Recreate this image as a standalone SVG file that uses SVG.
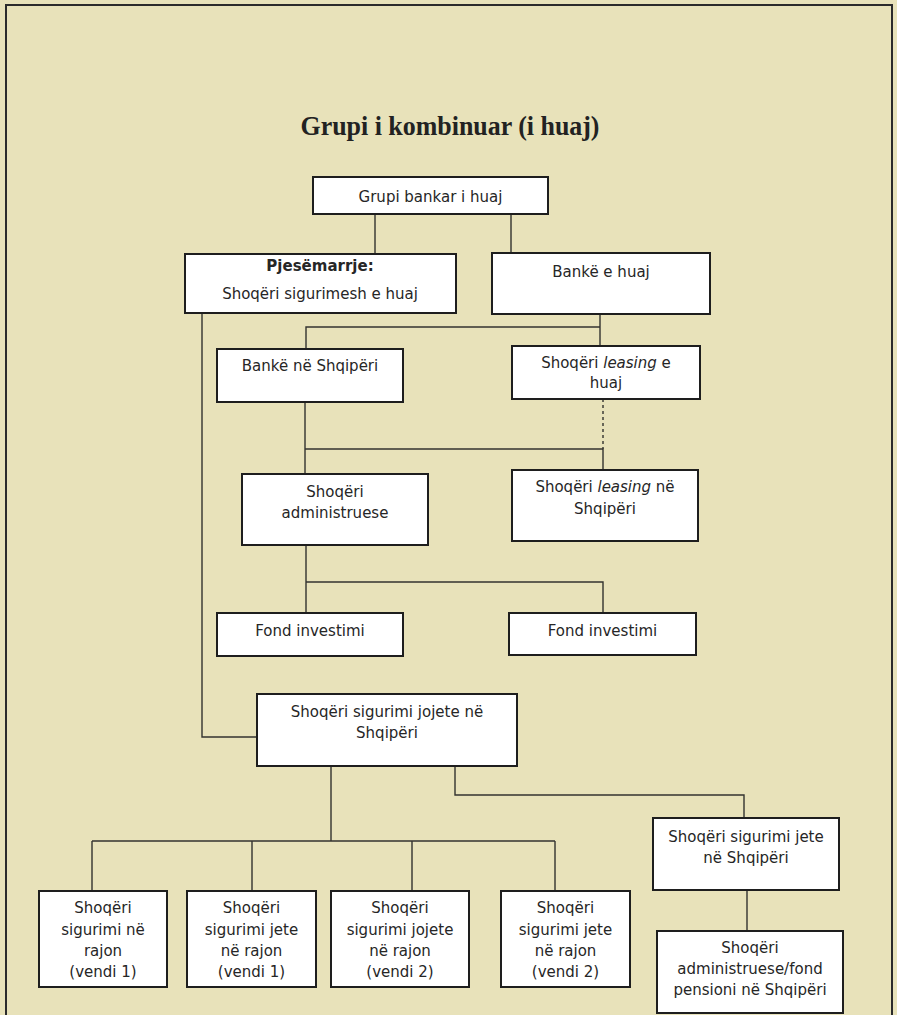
<svg xmlns="http://www.w3.org/2000/svg" width="897" height="1015" viewBox="0 0 897 1015">
<defs>
<style>
.bg{fill:#E8E2BA}
.frame{fill:none;stroke:#2b2b2b;stroke-width:2}
.box{fill:#ffffff;stroke:#1e1e1e;stroke-width:2}
.ln{fill:none;stroke:#333330;stroke-width:1.4}
.dash{fill:none;stroke:#333330;stroke-width:1.4;stroke-dasharray:3,3}
.t{font-family:"DejaVu Sans","Verdana",sans-serif;font-size:15px;fill:#262626;text-anchor:middle}
.title{font-family:"Liberation Serif","Times New Roman",serif;font-size:28px;font-weight:bold;fill:#222;text-anchor:middle}
.b{font-weight:bold}
.i{font-style:italic}
</style>
</defs>
<rect class="bg" x="0" y="0" width="897" height="1015"/>
<path class="frame" d="M6,1016 V5 H892 V1016"/>
<text class="title" x="450" y="135" textLength="299" lengthAdjust="spacingAndGlyphs">Grupi i kombinuar (i huaj)</text>

<g id="connectors">
<path class="ln" d="M375,214 V254 M511,214 V253"/>
<path class="ln" d="M600,314 V327 H306 V349 M600,327 V346"/>
<path class="ln" d="M202,313 V737 H257"/>
<path class="ln" d="M305,402 V449 H603 V470 M305,449 V474"/>
<path class="dash" d="M603,399 V449"/>
<path class="ln" d="M306,545 V582 H603 V613 M306,582 V613"/>
<path class="ln" d="M331,766 V841 M92,841 H555 M92,841 V891 M252,841 V891 M412,841 V891 M555,841 V891"/>
<path class="ln" d="M455,766 V795 H744 V818"/>
<path class="ln" d="M747,890 V931"/>
</g>

<g id="grupi-bankar">
<rect class="box" x="313" y="177" width="235" height="37"/>
<text class="t" x="430.5" y="202">Grupi bankar i huaj</text>
</g>
<g id="pjesemarrje">
<rect class="box" x="185" y="254" width="271" height="59"/>
<text class="t" x="320" y="271"><tspan class="b">Pjesëmarrje:</tspan></text>
<text class="t" x="320" y="299">Shoqëri sigurimesh e huaj</text>
</g>
<g id="banke-huaj">
<rect class="box" x="492" y="253" width="218" height="61"/>
<text class="t" x="601" y="277">Bankë e huaj</text>
</g>
<g id="banke-shqiperi">
<rect class="box" x="217" y="349" width="186" height="53"/>
<text class="t" x="310" y="371">Bankë në Shqipëri</text>
</g>
<g id="leasing-huaj">
<rect class="box" x="512" y="346" width="188" height="53"/>
<text class="t" x="606" y="368">Shoqëri <tspan class="i">leasing</tspan> e</text>
<text class="t" x="606" y="388">huaj</text>
</g>
<g id="administruese">
<rect class="box" x="242" y="474" width="186" height="71"/>
<text class="t" x="335" y="497">Shoqëri</text>
<text class="t" x="335" y="518">administruese</text>
</g>
<g id="leasing-shqiperi">
<rect class="box" x="512" y="470" width="186" height="71"/>
<text class="t" x="605" y="492">Shoqëri <tspan class="i">leasing</tspan> në</text>
<text class="t" x="605" y="514">Shqipëri</text>
</g>
<g id="fond-1">
<rect class="box" x="217" y="613" width="186" height="43"/>
<text class="t" x="310" y="636">Fond investimi</text>
</g>
<g id="fond-2">
<rect class="box" x="509" y="613" width="187" height="42"/>
<text class="t" x="602.5" y="636">Fond investimi</text>
</g>
<g id="jojete-shqiperi">
<rect class="box" x="257" y="694" width="260" height="72"/>
<text class="t" x="387" y="717">Shoqëri sigurimi jojete në</text>
<text class="t" x="387" y="738">Shqipëri</text>
</g>
<g id="jete-shqiperi">
<rect class="box" x="653" y="818" width="186" height="72"/>
<text class="t" x="746" y="842">Shoqëri sigurimi jete</text>
<text class="t" x="746" y="863">në Shqipëri</text>
</g>
<g id="pension">
<rect class="box" x="657" y="931" width="186" height="82"/>
<text class="t" x="750" y="953">Shoqëri</text>
<text class="t" x="750" y="974">administruese/fond</text>
<text class="t" x="750" y="995">pensioni në Shqipëri</text>
</g>
<g id="rajon-1">
<rect class="box" x="39" y="891" width="128" height="96"/>
<text class="t" x="103" y="913">Shoqëri</text>
<text class="t" x="103" y="935">sigurimi në</text>
<text class="t" x="103" y="956">rajon</text>
<text class="t" x="103" y="977">(vendi 1)</text>
</g>
<g id="rajon-2">
<rect class="box" x="187" y="891" width="129" height="96"/>
<text class="t" x="251.5" y="913">Shoqëri</text>
<text class="t" x="251.5" y="935">sigurimi jete</text>
<text class="t" x="251.5" y="956">në rajon</text>
<text class="t" x="251.5" y="977">(vendi 1)</text>
</g>
<g id="rajon-3">
<rect class="box" x="331" y="891" width="138" height="96"/>
<text class="t" x="400" y="913">Shoqëri</text>
<text class="t" x="400" y="935">sigurimi jojete</text>
<text class="t" x="400" y="956">në rajon</text>
<text class="t" x="400" y="977">(vendi 2)</text>
</g>
<g id="rajon-4">
<rect class="box" x="501" y="891" width="129" height="96"/>
<text class="t" x="565.5" y="913">Shoqëri</text>
<text class="t" x="565.5" y="935">sigurimi jete</text>
<text class="t" x="565.5" y="956">në rajon</text>
<text class="t" x="565.5" y="977">(vendi 2)</text>
</g>
</svg>
